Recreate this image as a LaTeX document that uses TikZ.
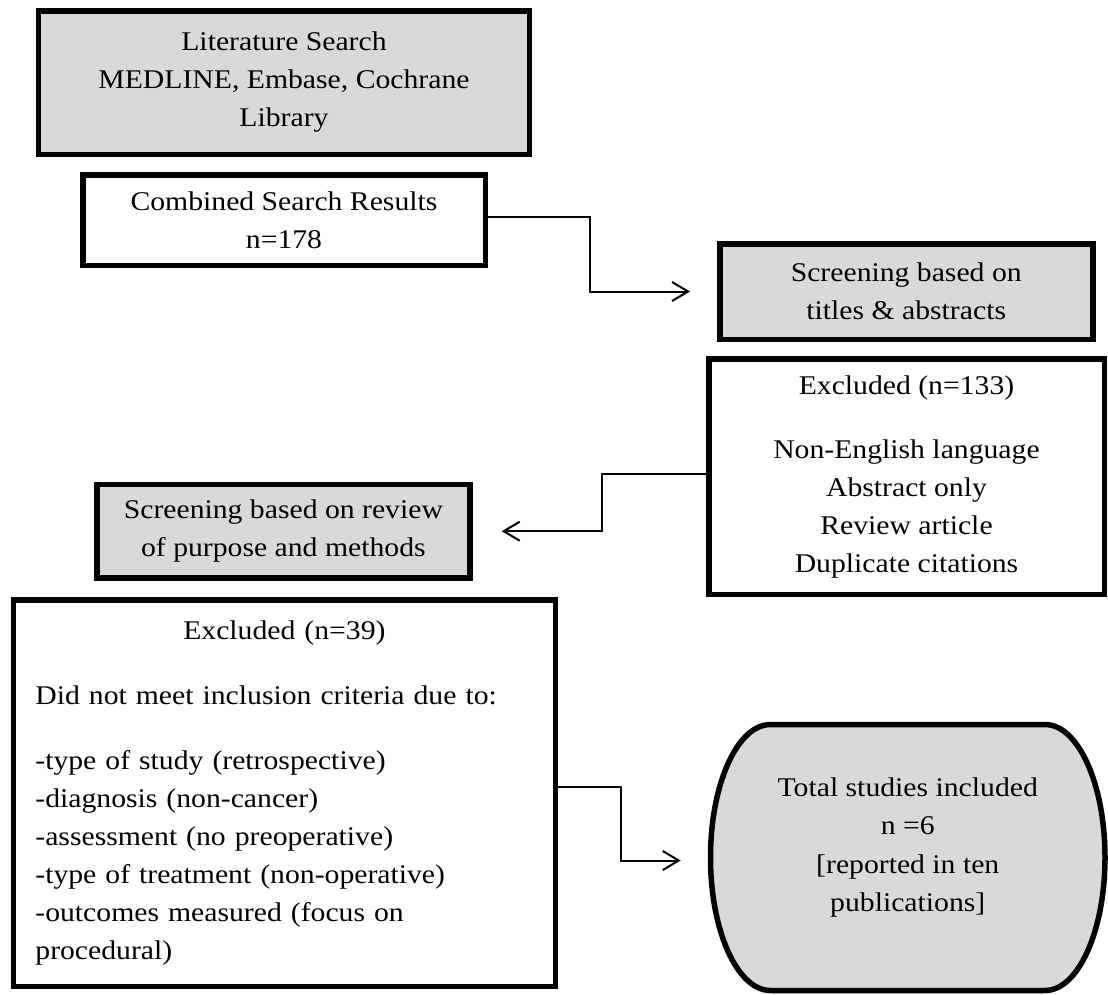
\documentclass[tikz,border=0pt]{standalone}
\usepackage{fontspec}
\setmainfont{Liberation Serif}[FakeStretch=1.1]
\usetikzlibrary{arrows.meta}
\definecolor{boxgrey}{RGB}{217,217,217}
\tikzset{
  box/.style={draw, line width=5.5pt, align=center, inner sep=0pt, outer sep=0pt,
    font=\fontsize{27}{38}\selectfont},
  greybox/.style={box, fill=boxgrey},
  flow/.style={line width=2pt, -{Straight Barb[length=16pt, width=19pt, line width=2pt]}}
}
\begin{document}
\begin{tikzpicture}[x=1pt, y=-1pt]
      \useasboundingbox (0,0) rectangle (1108,994);
      \node[greybox, minimum width=491, minimum height=143.5] (search) at (284,82.5)
        {Literature Search\\MEDLINE, Embase, Cochrane\\Library};
      \node[box, minimum width=402.5, minimum height=90.5] (combined) at (284,220)
        {Combined Search Results\\n=178};
      \node[greybox, minimum width=373, minimum height=95.5] (screen1) at (906.25,291.5)
        {Screening based on\\titles \& abstracts};
      \node[box, minimum width=395.5, minimum height=235.5] (excl1) at (906.5,476.5)
        {Excluded (n=133)\\[26pt]Non-English language\\Abstract only\\Review article\\Duplicate citations};
      \node[greybox, minimum width=373.25, minimum height=93.5] (screen2) at (283.4,531.2)
        {Screening based on review\\of purpose and methods};
      \node[box, minimum width=541.75, minimum height=386.5, align=left, text width=498] (excl2) at (284.4,793.3)
        {\makebox[498pt]{Excluded (n=39)}\\[27pt]
         Did not meet inclusion criteria due to:\\[27pt]
         -type of study (retrospective)\\
         -diagnosis (non-cancer)\\
         -assessment (no preoperative)\\
         -type of treatment (non-operative)\\
         -outcomes measured (focus on\\
         procedural)};
      % rounded end box for the result
      \node[minimum width=394.5, minimum height=266, inner sep=0pt, outer sep=0pt] (total) at (907.75,857.5) {};
      \draw[line width=5.5pt, fill=boxgrey]
        ([xshift=60pt]total.north west) -- ([xshift=-60pt]total.north east)
        arc[start angle=90, end angle=-90, x radius=60pt, y radius=133pt]
        -- ([xshift=60pt]total.south west)
        arc[start angle=270, end angle=90, x radius=60pt, y radius=133pt] -- cycle;
      \node[align=center, inner sep=0pt, font=\fontsize{27}{38.5}\selectfont] (totaltext) at ([yshift=10pt]total.center)
        {Total studies included\\n =6\\{[}reported in ten\\publications{]}};
      \begin{scope}[flow]
        \draw ([yshift=3pt]combined.east) -- ++(104.75,0) |- ([xshift=-29.75pt]screen1.west);
        \draw ([yshift=2.5pt]excl1.west) -- ++(-106.75,0) |- ([xshift=31.7pt]screen2.east);
        \draw ([yshift=6pt]excl2.east) -- ++(65.75,0) |- ([xshift=-29.8pt,yshift=-3pt]total.west);
      \end{scope}
    \end{tikzpicture}
\end{document}
